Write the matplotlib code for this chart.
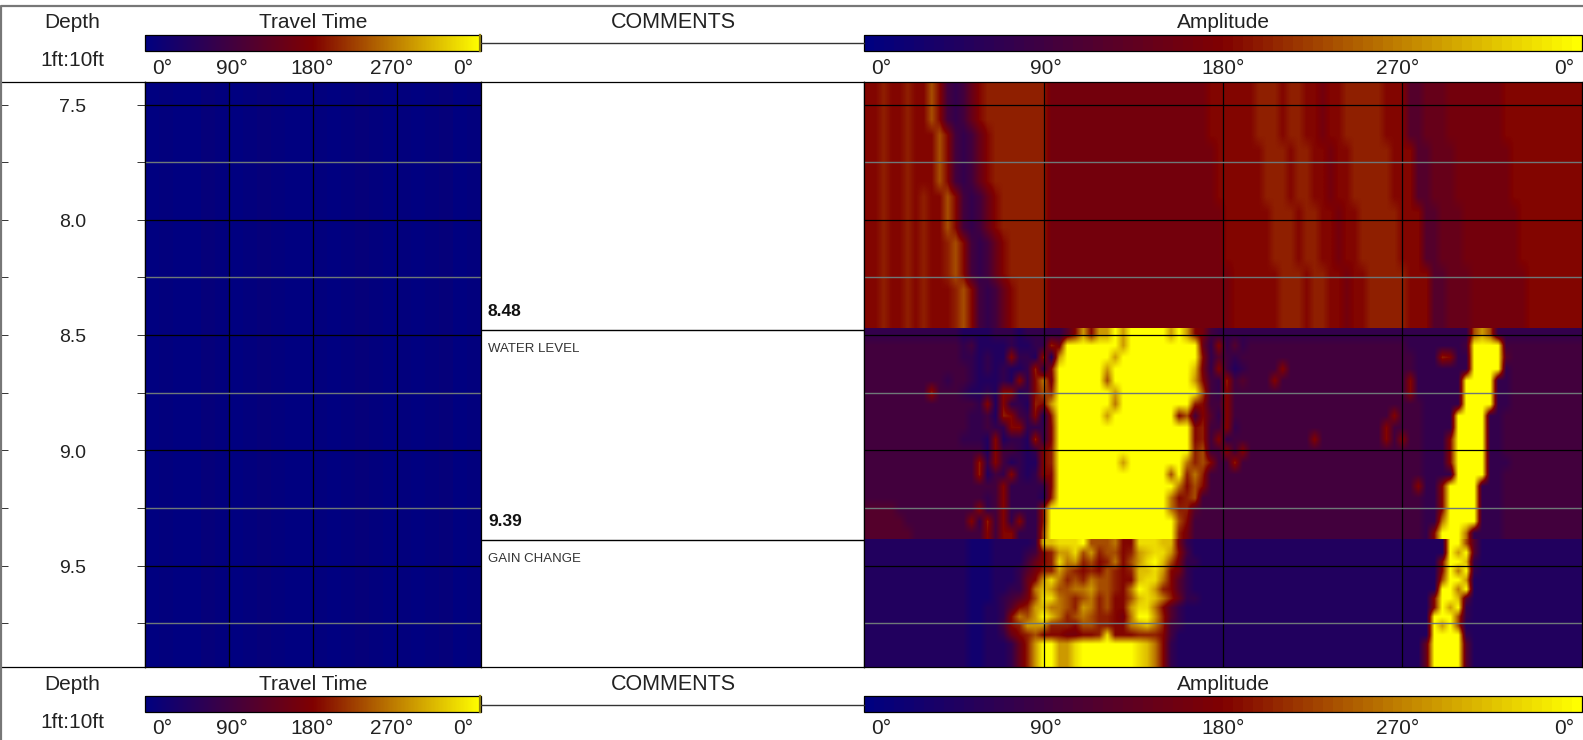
"""
Borehole log panel: depth track, travel time, comments and amplitude image.
Amplitude cells are hand read from the picture as hex levels (0 = navy, f = yellow).
"""
import matplotlib
matplotlib.use('Agg')
import matplotlib.pyplot as plt
from matplotlib.colors import LinearSegmentedColormap
from matplotlib.cm import ScalarMappable
import numpy as np

W, H = 1583, 740

depth_major = [7.5, 8.0, 8.5, 9.0, 9.5]
depth_minor = [7.75, 8.25, 8.75, 9.25, 9.75]
depth_range = (7.40, 9.94)
angle_labels = ['0°', '90°', '180°', '270°', '0°']

comment_depths = [8.48, 9.39]
comment_texts = ['WATER LEVEL', 'GAIN CHANGE']

# travel time is almost flat, one value per column
travel_values = [0.0, 0.01, 0.0, 0.0, 0.02, 0.01, 0.0, 0.01, 0.02, 0.01, 0.0, 0.0,
                 0.01, 0.0, 0.01, 0.02, 0.01, 0.0, 0.01, 0.0, 0.01, 0.02, 0.0, 0.01]

# colour value of each hex level used in the amplitude rows
levels = [0.0, 0.07, 0.13, 0.2, 0.26, 0.33, 0.40, 0.45, 0.51, 0.56, 0.65, 0.73, 0.8, 0.87, 0.93, 1.0]

# zones of the amplitude image, split at the gain changes
zone_breaks = [7.40, 8.47, 9.385, 9.94]

amp_upper = [
    "88988988a8 4346899999 9997777777 7777777777 7778888889 9989988788 9999988855 6667777777 8888888888",
    "88988988a8 4346899999 9997777777 7777777777 7778888889 9989988788 9999988855 6667777777 8888888888",
    "88988988a8 4346899999 9997777777 7777777777 7778888889 9989988788 9999988855 6667777777 8888888888",
    "889889888a 8434689999 9997777777 7777777777 7778888889 9989988788 9999988855 6667777777 8888888888",
    "889889888a 8434689999 9997777777 7777777777 7777888888 9998998878 8999998885 5666777777 7888888888",
    "889889888a 8434689999 9997777777 7777777777 7777888888 9998998878 8999998885 5666777777 7888888888",
    "889889888a 8434689999 9997777777 7777777777 7777888888 9998998878 8999998885 5666777777 7888888888",
    "8898898988 a843468999 9997777777 7777777777 7777888888 9998998878 8999998885 5666777777 7888888888",
    "8898898988 a843468999 9997777777 7777777777 7777788888 8999899887 8899999888 5566677777 7788888888",
    "8898898988 a843468999 9997777777 7777777777 7777788888 8999899887 8899999888 5566677777 7788888888",
    "8898898988 9a84346899 9997777777 7777777777 7777788888 8999899887 8899999888 5566677777 7788888888",
    "8898898988 9a84346899 9997777777 7777777777 7777788888 8999899887 8899999888 5566677777 7788888888",
    "8898898988 9a84346899 9997777777 7777777777 7777778888 8899989988 7889999988 8556667777 7778888888",
    "8898898988 89a8434689 9997777777 7777777777 7777778888 8899989988 7889999988 8556667777 7778888888",
    "8898898988 89a8434689 9997777777 7777777777 7777778888 8899989988 7889999988 8556667777 7778888888",
    "8898898988 89a8434689 9997777777 7777777777 7777778888 8899989988 7889999988 8556667777 7778888888",
]

amp_water = [
    "3333333333 3322223332 3333358c8c cfcfffffcf c874333333 3333333333 3333333333 333333aca3 3333333333",
    "4444444444 4434222232 23397fffff ffcfffffff ff63835344 4444444444 4444444433 333334ffff 4444444444",
    "4444444444 4433232283 3292cfffff fcffffffff ff83543444 4444444444 4444444443 339833ffff 5444444444",
    "4444444444 4443232322 3938ffffff cfffffffff fd73842344 4484444444 4444444443 333333ffff 3444444444",
    "4444444444 3443222328 38b7ffffff afffffffff fc84394544 4844444444 4444444483 33333ffff3 3444444444",
    "4444444494 4432232882 38a9ffffff fcffffffff ffa4384444 4444444444 4444444483 33333ffff3 3444444444",
    "4444444444 4444382833 298cffffff fbffffffff f984484444 4444444444 4444444444 33333ffff3 3444444444",
    "4444444444 4443342984 3829ffffff cffffffff8 a485384444 4444444444 4444448444 3333ffff33 4444444444",
    "4444444444 4443343388 3338ffffff ffffffffff f894483444 4444444444 4444484444 3333ffff33 4444444444",
    "4444444444 4433328233 2938ffffff ffffffffff f894834444 4444448444 4444484844 3338ffff33 4444444444",
    "4444444444 4444428443 2389ffffff ffffffffff f9a4484844 4444444444 4444444444 3338ffff33 4444444444",
    "4444444444 4444938423 2289ffffff ffcfffffff b9a8449444 4444444444 4444444444 3338ffff33 3444444444",
    "4444444444 4444924383 2388ffffff ffffffffaf 9b94444444 4444444444 4444444444 3333ffff33 4444444444",
    "4444444444 4444444833 3338ffffff fffffffffb 8a84444444 4444444444 4444444448 338ffff333 4444444444",
    "4444444444 4444434833 3329ffffff ffffffffb8 9a44444444 4444444444 4444444444 338ffff333 4444444444",
    "5555444444 4444834833 339fffffff ffffffffb9 9544444444 4444444444 4444444444 338ffff333 4444444444",
    "5555544444 4448394838 339fffffff fffffffffa 8444444444 4444444444 4444444444 33bffff333 4444444444",
    "5555554444 4444484883 33afffffff fffffffff9 7444444444 4444444444 4444444444 38fffb3333 4444444444",
]

amp_gain = [
    "2222222222 2221112222 23ddeeefaa ab88eeedd7 3222222222 2222222222 2222222222 222ffa5222 2222222222",
    "2222222222 2221112222 3489cceac9 aa89cdeec8 4222222222 2222222222 2222222222 222fcf5222 2222222222",
    "2222222222 2221112222 4689ebc9a8 9b8acefda7 3322222222 2222222222 2222222222 228ffd3222 2222222222",
    "2222222222 2221112223 5799ca9898 a989ddec87 3222222222 2222222222 2222222222 228fbf3222 2222222222",
    "2222222222 2221112223 68ceb9a9ba a988deeb85 3222222222 2222222222 2222222222 22affc2222 2222222222",
    "2222222222 2221112233 6bdcaabbca a98bfec985 3222222222 2222222222 2222222222 22ffbf2222 2222222222",
    "2222222222 2221112345 7aeeba9ab9 a88adedb96 3322222222 2222222222 2222222222 28ffd52222 2222222222",
    "2222222222 2221122358 9cdbba9cb9 a88ceeb853 2222222222 2222222222 2222222222 28fcf32222 2222222222",
    "2222222222 222112238b acfdb9aba9 987bffc953 2222222222 2222222222 2222222222 2fffa32222 2222222222",
    "2222222222 2221122489 ccc9998aa9 988bcdb943 2222222222 2222222222 2222222222 2fcfa22222 2222222222",
    "2222222222 2221122368 9a88877889 e888999842 2222222222 2222222222 2222222222 2ffff32222 2222222222",
    "2222222222 2221122236 9cffccefff ffffedb832 2222222222 2222222222 2222222222 6ffff52222 2222222222",
    "2222222222 2221122236 9cffccefff ffffedb832 2222222222 2222222222 2222222222 6ffff52222 2222222222",
    "2222222222 2221122236 9cffccefff ffffedb832 2222222222 2222222222 2222222222 6ffff52222 2222222222",
]

log_cmap = LinearSegmentedColormap.from_list('log', ['#000080', '#800000', '#ffff00'])
amp_bar_cmap = log_cmap.resampled(72)


def parse_rows(rows):
    cells = []
    for row in rows:
        row = row.replace(' ', '')
        cells.append([levels[int(c, 16)] for c in row])
    return np.array(cells)


def px_axes(x0, y0, x1, y1, **kw):
    # axes placed by picture pixels, y measured from the top
    return fig.add_axes([x0 / W, 1 - y1 / H, (x1 - x0) / W, (y1 - y0) / H], **kw)


plt.rcParams['font.family'] = ['Liberation Sans', 'DejaVu Sans']

fig = plt.figure(figsize=(W / 100, H / 100), dpi=100)

# overlay for header and footer
chrome = px_axes(0, 0, W, H, zorder=5)
chrome.set_xlim(0, W)
chrome.set_ylim(H, 0)
chrome.axis('off')

TOP, BOTTOM = 81.5, 667
T0, T1 = 145, 481
A0, A1 = 864, 1582

# depth track
depth_ax = px_axes(0, TOP, T0, BOTTOM)
depth_ax.set_xlim(0, 1)
depth_ax.set_ylim(depth_range[1], depth_range[0])
depth_ax.set_xticks([])
depth_ax.set_yticks(depth_major + depth_minor)
depth_ax.set_yticklabels([])
depth_ax.tick_params(axis='y', left=True, right=True, direction='in', length=6, width=0.7, color='#333333')
depth_ax.spines['left'].set_visible(False)
for v in depth_major:
    depth_ax.annotate(f'{v:.1f}', (0.5, v), xytext=(0, -2), textcoords='offset points',
                      ha='center', va='center', fontsize=14, color='#222222')

# travel time track
travel_ax = px_axes(T0, TOP, T1, BOTTOM)
travel_ax.imshow([travel_values], cmap=log_cmap, vmin=0, vmax=1, aspect='auto',
                 extent=[0, 360, depth_range[1], depth_range[0]], interpolation='nearest')

# comments
comment_ax = px_axes(T1, TOP, A0, BOTTOM)
comment_ax.set_xlim(0, 1)
comment_ax.set_ylim(depth_range[1], depth_range[0])
comment_ax.set_xticks([])
comment_ax.set_yticks([])
for d, t in zip(comment_depths, comment_texts):
    comment_ax.axhline(d, color='black', lw=1)
    comment_ax.annotate(f'{d:.2f}', (0, d), xytext=(5, 8), textcoords='offset points',
                        fontweight='bold', fontsize=12.5, color='#111111', va='bottom')
    comment_ax.annotate(t, (0, d), xytext=(5, -9), textcoords='offset points',
                        fontsize=9.5, color='#333333', va='top')

# amplitude track
amp_ax = px_axes(A0, TOP, A1, BOTTOM)
for i, rows in enumerate([amp_upper, amp_water, amp_gain]):
    amp_ax.imshow(parse_rows(rows), cmap=log_cmap, vmin=0, vmax=1, aspect='auto',
                  extent=[0, 360, zone_breaks[i + 1], zone_breaks[i]],
                  interpolation='bilinear', interpolation_stage='data')

for ax in [travel_ax, amp_ax]:
    ax.set_xlim(0, 360)
    ax.set_ylim(depth_range[1], depth_range[0])
    ax.set_xticks([])
    ax.set_yticks([])
    for v in [90, 180, 270]:
        ax.axvline(v, color='black', lw=0.9)
    for v in depth_major:
        ax.axhline(v, color='black', lw=0.9)
    for v in depth_minor:
        ax.axhline(v, color='#6e7878', lw=1)

for ax in [depth_ax, travel_ax, comment_ax, amp_ax]:
    for s in ax.spines.values():
        s.set_linewidth(0.9)

# header and footer share one layout
for bar_y0, bar_y1, line_y, title_y, label_y, scale_y in [
        (35, 50.5, 42.5, 23, 68, 60),
        (696, 712, 704.5, 685, 729, 723)]:
    chrome.text(72.5, title_y, 'Depth', ha='center', va='center', fontsize=15, color='#222222')
    chrome.text(72.5, scale_y, '1ft:10ft', ha='center', va='center', fontsize=15, color='#222222')
    chrome.text(313, title_y, 'Travel Time', ha='center', va='center', fontsize=15, color='#222222')
    chrome.text(673, title_y, 'COMMENTS', ha='center', va='center', fontsize=15.5, color='#222222')
    chrome.text(1223, title_y, 'Amplitude', ha='center', va='center', fontsize=15, color='#222222')
    chrome.plot([T1, A0], [line_y, line_y], color='#333333', lw=1)
    chrome.plot([T1 - 0.5, T1 - 0.5], [bar_y0, bar_y1], color='#8a7a10', lw=1.6)
    for x, t in zip([162, 232, 312, 392, 463], angle_labels):
        chrome.text(x, label_y, t, ha='center', va='center', fontsize=15, color='#222222')
    for x, t in zip([881, 1046, 1223, 1398, 1564], angle_labels):
        chrome.text(x, label_y, t, ha='center', va='center', fontsize=15, color='#222222')
    for x0, x1, cm in [(T0, T1, log_cmap), (A0, A1, amp_bar_cmap)]:
        cax = px_axes(x0, bar_y0, x1, bar_y1)
        cb = fig.colorbar(ScalarMappable(cmap=cm), cax=cax, orientation='horizontal')
        cb.set_ticks([])
        cb.outline.set_linewidth(0.9)

# outer frame of the page
chrome.plot([1, 1, W], [H, 5.5, 5.5], color='#777777', lw=1.6, clip_on=False)

plt.savefig('out.png', dpi=100)
print('Saved out.png')
